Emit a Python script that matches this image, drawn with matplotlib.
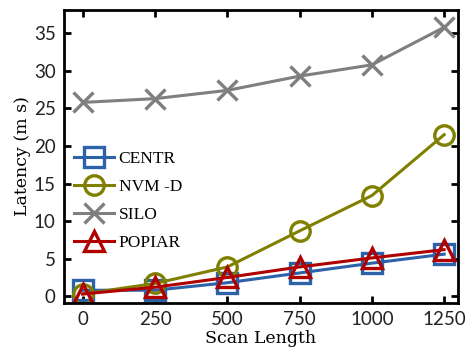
import matplotlib.pyplot as plt

scan_length = [0, 250, 500, 750, 1000, 1250]
centr = [0.8, 0.8, 1.8, 3.1, 4.4, 5.6]
nvm_d = [0.3, 1.7, 3.9, 8.7, 13.4, 21.5]
silo = [25.8, 26.3, 27.4, 29.3, 30.8, 35.8]
popiar = [0.3, 1.2, 2.5, 3.9, 5.1, 6.2]

series = [
    ("CENTR", centr, "#2b62a8", "s"),
    ("NVM -D", nvm_d, "#808000", "o"),
    ("SILO", silo, "#7f7f7f", "x"),
    ("POPIAR", popiar, "#b00000", "^"),
]

fig = plt.figure(figsize=(4.73, 3.57), dpi=100)
ax = fig.add_axes([64 / 473, 1 - 303 / 357, (458 - 64) / 473, (303 - 10) / 357])

for label, vals, color, marker in series:
    ax.plot(scan_length, vals, color=color, marker=marker, markersize=14,
            markerfacecolor="none", markeredgewidth=2.4, linewidth=2.2, label=label)

ax.set_xlim(-65, 1298)
ax.set_ylim(-0.9, 38.1)
ax.set_xticks(scan_length)
ax.set_yticks([0, 5, 10, 15, 20, 25, 30, 35])
ax.tick_params(direction="in", top=True, right=True, length=5, width=2,
               labelsize=13.5, pad=6, labelcolor="#222222")
for lab in ax.get_xticklabels() + ax.get_yticklabels():
    lab.set_family(["Lato", "Liberation Sans"])
for sp in ax.spines.values():
    sp.set_linewidth(2)

ax.set_xlabel("Scan Length", family="DejaVu Serif", fontsize=12.5, labelpad=1)
ax.set_ylabel("Latency (m s)", family="DejaVu Serif", fontsize=12.5, labelpad=2)

ax.legend(loc="upper left", bbox_to_anchor=(0.0, 0.555), frameon=False,
          handlelength=2.3, handletextpad=0.25, labelspacing=0.68,
          borderaxespad=0.2, prop={"family": "Liberation Serif", "size": 12.5})

plt.savefig("out.png", dpi=100)
